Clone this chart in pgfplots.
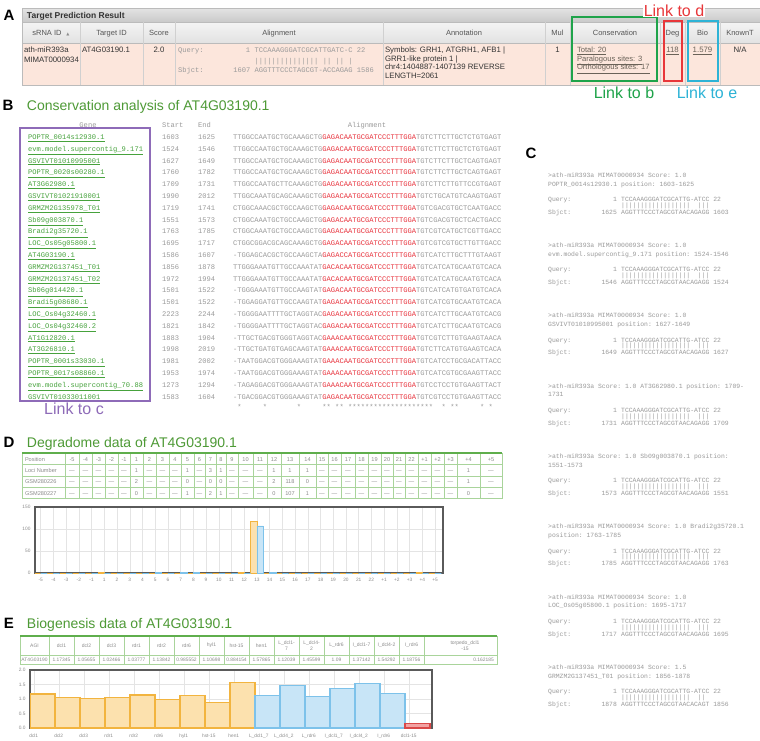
\documentclass[border=0pt]{standalone}
\usepackage{pgfplots}
\pgfplotsset{compat=1.18}
\usepackage{fontspec}
\setmainfont{Liberation Sans}
\setmonofont{Liberation Mono}
\newfontfamily\dejavu{DejaVu Sans}
\newcommand{\fs}[1]{\fontsize{#1}{#1}\selectfont}
\definecolor{titlegreen}{HTML}{4E9A36}
\definecolor{genegreen}{HTML}{46A23C}
\definecolor{seqgray}{HTML}{9A9A9A}
\definecolor{seqred}{HTML}{E8323C}
\definecolor{linkpurple}{HTML}{8E6BB8}
\definecolor{boxgreen}{HTML}{1FA34A}
\definecolor{boxred}{HTML}{E8373A}
\definecolor{boxcyan}{HTML}{2DB3D6}
\definecolor{pinkrow}{HTML}{FCE6DC}
\definecolor{tabgreen}{HTML}{A9D49B}
\definecolor{tabgreendark}{HTML}{5FAE4C}
\definecolor{orfill}{HTML}{FCE1AE}
\definecolor{ordraw}{HTML}{F2B43F}
\definecolor{blfill}{HTML}{C8E5F7}
\definecolor{bldraw}{HTML}{7DC2EA}
\definecolor{rdfill}{HTML}{F2A2A2}
\definecolor{rddraw}{HTML}{D94848}
\definecolor{txtgray}{HTML}{8C8C8C}
\definecolor{darktxt}{HTML}{333333}
\definecolor{hdtxt}{HTML}{555555}
\definecolor{hdrtop}{HTML}{E4E4E4}
\definecolor{hdrbot}{HTML}{C9C9C9}
\definecolor{colhdtop}{HTML}{F4F4F4}
\definecolor{colhdbot}{HTML}{E2E2E2}
\definecolor{linegray}{HTML}{BBBBBB}
\definecolor{sepgray}{HTML}{D0D0D0}
\definecolor{contxt}{HTML}{6A6258}
\definecolor{gridgray}{HTML}{E4E4E4}
\definecolor{framegray}{HTML}{5A5A5A}
\tikzset{lt/.style={anchor=base west,inner sep=0pt,outer sep=0pt},
  ctr/.style={anchor=base,inner sep=0pt,outer sep=0pt},
  ct/.style={anchor=base west,inner sep=0pt,font=\ttfamily\fs{6.4},text=seqgray}}
\newcommand{\crec}[8]{%
  \node[ct] at (548,{#1+2.3}) {#2};
  \node[ct] at (548,{#1+11}) {#3};
  \node[ct] at (548,{#1+26.6}) {Query:};
  \node[ct,anchor=base east] at ({548+18*3.84},{#1+26.6}) {1};
  \node[ct] at ({548+19*3.84},{#1+26.6}) {#8 22};
  \node[ct] at ({548+19*3.84},{#1+32.3}) {#7};
  \node[ct] at (548,{#1+39.3}) {Sbjct:};
  \node[ct,anchor=base east] at ({548+18*3.84},{#1+39.3}) {#4};
  \node[ct] at ({548+19*3.84},{#1+39.3}) {#5 #6};
}
\begin{document}
\begin{tikzpicture}
\useasboundingbox (0pt,0pt) rectangle (760pt,-740pt);
\fill[white] (0pt,0pt) rectangle (760pt,-740pt);
\begin{scope}
\clip (0pt,0pt) rectangle (760pt,-740pt);
\begin{scope}[x=1pt,y=-1pt]
% ---------------- Panel letters
\foreach \lx/\ly/\lt in {9/15/A, 8/105/B, 531/153/C, 9/442/D, 9/623/E}
  \node[inner sep=0pt,font=\fs{15}\bfseries] at (\lx,\ly) {\lt};
% ---------------- Panel A
\shade[top color=hdrtop,bottom color=hdrbot] (22,8) rectangle (762,22);
\node[lt,font=\fs{8.5}\bfseries,text=darktxt] at (27,18.2) {Target Prediction Result};
\shade[top color=colhdtop,bottom color=colhdbot] (22,22) rectangle (762,43);
\fill[pinkrow] (22,43) rectangle (762,85);
\draw[linegray] (22,22) -- (762,22) (22,43) -- (762,43) (22,85) -- (762,85) (22,8) -- (22,85) (22,8) -- (762,8);
\foreach \x in {80,143,175,383,545,570,660,685,720} \draw[sepgray] (\x,22) -- (\x,85);
\foreach \x/\t in {47/sRNA ID,111.5/Target ID,159/Score,279/Alignment,464/Annotation,557.5/Mul,615/Conservation,672.5/Deg,702.5/Bio,740/KnownT}
  \node[ctr,font=\fs{7.5},text=hdtxt] at (\x,35.5) {\t};
\node[ctr,font=\dejavu\fs{4},text=txtgray] at (68,35) {▲};
\node[lt,font=\fs{7.8},text=darktxt] at (24,52.8) {ath-miR393a};
\node[lt,font=\fs{7.8},text=darktxt] at (24,62.8) {MIMAT0000934};
\node[lt,font=\fs{7.8},text=darktxt] at (82,52.8) {AT4G03190.1};
\node[ctr,font=\fs{7.8},text=darktxt] at (159,52.8) {2.0};
\begin{scope}
\clip (176,43) rectangle (382,85);
\node[lt,font=\ttfamily\fs{7.1},text=seqgray] at (178,52.8) {Query:};
\node[anchor=base east,inner sep=0pt,font=\ttfamily\fs{7.1},text=seqgray] at (250.3,52.8) {1};
\node[lt,font=\ttfamily\fs{7.1},text=seqgray] at (254.6,52.8) {TCCAAAGGGATCGCATTGATC-C 22};
\node[lt,font=\ttfamily\fs{7.1},text=seqgray] at (254.6,63.2) {|||||||||||||||\ ||\ ||\ |};
\node[lt,font=\ttfamily\fs{7.1},text=seqgray] at (178,72.8) {Sbjct:};
\node[lt,font=\ttfamily\fs{7.1},text=seqgray] at (233.3,72.8) {1607 AGGTTTCCCTAGCGT-ACCAGAG 1586};
\end{scope}
\node[lt,font=\fs{7.8},text=darktxt] at (385,52.8) {Symbols: GRH1, ATGRH1, AFB1 |};
\node[lt,font=\fs{7.8},text=darktxt] at (385,61.3) {GRR1-like protein 1 |};
\node[lt,font=\fs{7.8},text=darktxt] at (385,69.8) {chr4:1404887-1407139 REVERSE};
\node[lt,font=\fs{7.8},text=darktxt] at (385,78.3) {LENGTH=2061};
\node[ctr,font=\fs{7.8},text=darktxt] at (557.5,52.8) {1};
\node[lt,font=\fs{7.6},text=contxt] at (577,52.8) {\underline{Total: 20}};
\node[lt,font=\fs{7.6},text=contxt] at (577,61.3) {\underline{Paralogous sites: 3}};
\node[lt,font=\fs{7.6},text=contxt] at (577,69.8) {\underline{Orthologous sites: 17}};
\node[ctr,font=\fs{7.8},text=contxt] at (672.5,52.8) {\underline{118}};
\node[ctr,font=\fs{7.8},text=contxt] at (702.5,52.8) {\underline{1.579}};
\node[ctr,font=\fs{7.8},text=darktxt] at (740,52.8) {N/A};
\draw[boxgreen,line width=2.2pt] (572,17) rectangle (657,81);
\draw[boxred,line width=2.2pt] (664,21) rectangle (682,81);
\draw[boxcyan,line width=2.2pt] (688,21) rectangle (718,81);
\node[fill=white,inner sep=1pt,font=\fs{16},text=boxred] at (674,10.5) {Link to d};
\node[inner sep=0pt,font=\fs{16},text=boxgreen] at (624,93) {Link to b};
\node[inner sep=0pt,font=\fs{16},text=boxcyan] at (707,93) {Link to e};
% ---------------- Panel B
\node[lt,font=\fs{14},text=titlegreen] at (27,110) {Conservation analysis of AT4G03190.1};
\node[ctr,font=\ttfamily\fs{7.1},text=seqgray] at (88,127.5) {Gene};
\node[lt,font=\ttfamily\fs{7.1},text=seqgray] at (162,127.5) {Start};
\node[lt,font=\ttfamily\fs{7.1},text=seqgray] at (198,127.5) {End};
\node[ctr,font=\ttfamily\fs{7.1},text=seqgray] at (367,127.5) {Alignment};
\foreach \g/\st/\en/\p/\m/\s [count=\i from 0] in {
POPTR\_0014s12930.1/1603/1625/TTGGCCAATGCTGCAAAGCTG/GAGACAATGCGATCCCTTTGGA/TGTCTTCTTGCTCTGTGAGT,
evm.model.supercontig\_9.171/1524/1546/TTGGCCAATGCTGCAAAGCTG/GAGACAATGCGATCCCTTTGGA/TGTCTTCTTGCTCTGTGAGT,
GSVIVT01010995001/1627/1649/TTGGCCAATGCTGCAAAGCTG/GAGACAATGCGATCCCTTTGGA/TGTCTTCTTGCTCAGTGAGT,
POPTR\_0020s00280.1/1760/1782/TTGGCCAATGCTGCAAAGCTG/GAGACAATGCGATCCCTTTGGA/TGTCTTCTTGCTCAGTGAGT,
AT3G62980.1/1709/1731/TTGGCCAATGCTTCAAAGCTG/GAGACAATGCGATCCCTTTGGA/TGTCTTCTTGTTCCGTGAGT,
GSVIVT01021910001/1990/2012/TTGGCAAATGCAGCAAAGCTG/GAGACAATGCGATCCCTTTGGA/TGTCTGCATGTCAAGTGAGT,
GRMZM2G135978\_T01/1719/1741/CTGGCAAACGCTGCCAAGCTG/GAGACAATGCGATCCCTTTGGA/TGTCGACGTGCTCAATGACC,
Sb09g003870.1/1551/1573/CTGGCAAATGCTGCCAAGCTG/GAGACAATGCGATCCCTTTGGA/TGTCGACGTGCTCACTGACC,
Bradi2g35720.1/1763/1785/CTGGCAAATGCTGCCAAGCTG/GAGACAATGCGATCCCTTTGGA/TGTCGTCATGCTCGTTGACC,
LOC\_Os05g05800.1/1695/1717/CTGGCGGACGCAGCAAAGCTG/GAGACAATGCGATCCCTTTGGA/TGTCGTCGTGCTTGTTGACC,
AT4G03190.1/1586/1607/-TGGAGCACGCTGCCAAGCTA/GAGACCATGCGATCCCTTTGGA/TGTCATCTTGCTTTGTAAGT,
GRMZM2G137451\_T01/1856/1878/TTGGGAAATGTTGCCAAATAT/GACACAATGCGATCCCTTTGGA/TGTCATCATGCAATGTCACA,
GRMZM2G137451\_T02/1972/1994/TTGGGAAATGTTGCCAAATAT/GACACAATGCGATCCCTTTGGA/TGTCATCATGCAATGTCACA,
Sb06g014420.1/1501/1522/-TGGGAAATGTTGCCAAGTAT/GAGACAATGCGATCCCTTTGGA/TGTCATCATGTGATGTCACA,
Bradi5g08680.1/1501/1522/-TGGAGGATGTTGCCAAGTAT/GAGACAATGCGATCCCTTTGGA/TGTCATCGTGCAATGTCACA,
LOC\_Os04g32460.1/2223/2244/-TGGGGAATTTTGCTAGGTAC/GAGACAATGCGATCCCTTTGGA/TGTCATCTTGCAATGTCACG,
LOC\_Os04g32460.2/1821/1842/-TGGGGAATTTTGCTAGGTAC/GAGACAATGCGATCCCTTTGGA/TGTCATCTTGCAATGTCACG,
AT1G12820.1/1883/1904/-TTGCTGACGTGGGTAGGTAC/GAAACAATGCGATCCCTTTGGA/TGTCGTCTTGTGAAGTAACA,
AT3G26810.1/1998/2019/-TTGCTGATGTGAGCAAGTAT/GAAACAATGCGATCCCTTTGGA/TGTCTTCATGTGAAGTCACA,
POPTR\_0001s33030.1/1981/2002/-TAATGGACGTGGGAAAGTAT/GAAACAATGCGATCCCTTTGGA/TGTCATCCTGCGACATTACC,
POPTR\_0017s08860.1/1953/1974/-TAATGGACGTGGGAAAGTAT/GAAACAATGCGATCCCTTTGGA/TGTCATCGTGCGAAGTTACC,
evm.model.supercontig\_70.88/1273/1294/-TAGAGGACGTGGGAAAGTAT/GAAACAATGCGATCCCTTTGGA/TGTCCTCCTGTGAAGTTACT,
GSVIVT01033011001/1583/1604/-TGACGGACGTGGGAAAGTAT/GAGACAATGCGATCCCTTTGGA/TGTCGTCCTGTGAAGTTACC}
{
  \node[lt,font=\ttfamily\fs{7.1},text=genegreen] at (28,{139.5+11.8*\i}) {\underline{\g}};
  \node[lt,font=\ttfamily\fs{7.1},text=seqgray] at (162,{139.5+11.8*\i}) {\st};
  \node[lt,font=\ttfamily\fs{7.1},text=seqgray] at (198,{139.5+11.8*\i}) {\en};
  \node[lt,font=\ttfamily\fs{7.1}] at (233,{139.5+11.8*\i}) {\textcolor{seqgray}{\p}\textcolor{seqred}{\m}\textcolor{seqgray}{\s}};
}
\foreach \k in {1,7,15,21,22,24,25,27,28,29,30,31,32,33,34,35,36,37,38,39,40,41,42,43,44,45,46,49,51,52,58,60}
  \node[lt,font=\ttfamily\fs{7.1},text=seqgray] at ({233+4.26*\k},409) {*};
\draw[linkpurple,line width=2.5pt] (20,128) rectangle (150,401);
\node[inner sep=0pt,font=\fs{16},text=linkpurple] at (74,409) {Link to c};
% ---------------- Panel C
\crec{175}{>ath-miR393a MIMAT0000934 Score: 1.0}{POPTR\_0014s12930.1 position: 1603-1625}{1625}{AGGTTTCCCTAGCGTAACAGAGG}{1603}{||||||||||||||||||\ \ |||}{TCCAAAGGGATCGCATTG-ATCC}
\crec{245.3}{>ath-miR393a MIMAT0000934 Score: 1.0}{evm.model.supercontig\_9.171 position: 1524-1546}{1546}{AGGTTTCCCTAGCGTAACAGAGG}{1524}{||||||||||||||||||\ \ |||}{TCCAAAGGGATCGCATTG-ATCC}
\crec{315.6}{>ath-miR393a MIMAT0000934 Score: 1.0}{GSVIVT01010995001 position: 1627-1649}{1649}{AGGTTTCCCTAGCGTAACAGAGG}{1627}{||||||||||||||||||\ \ |||}{TCCAAAGGGATCGCATTG-ATCC}
\crec{385.9}{>ath-miR393a Score: 1.0 AT3G62980.1 position: 1709-}{1731}{1731}{AGGTTTCCCTAGCGTAACAGAGG}{1709}{||||||||||||||||||\ \ |||}{TCCAAAGGGATCGCATTG-ATCC}
\crec{456.2}{>ath-miR393a Score: 1.0 Sb09g003870.1 position:}{1551-1573}{1573}{AGGTTTCCCTAGCGTAACAGAGG}{1551}{||||||||||||||||||\ \ |||}{TCCAAAGGGATCGCATTG-ATCC}
\crec{526.5}{>ath-miR393a MIMAT0000934 Score: 1.0 Bradi2g35720.1}{position: 1763-1785}{1785}{AGGTTTCCCTAGCGTAACAGAGG}{1763}{||||||||||||||||||\ \ |||}{TCCAAAGGGATCGCATTG-ATCC}
\crec{596.8}{>ath-miR393a MIMAT0000934 Score: 1.0}{LOC\_Os05g05800.1 position: 1695-1717}{1717}{AGGTTTCCCTAGCGTAACAGAGG}{1695}{||||||||||||||||||\ \ |||}{TCCAAAGGGATCGCATTG-ATCC}
\crec{667.1}{>ath-miR393a MIMAT0000934 Score: 1.5}{GRMZM2G137451\_T01 position: 1856-1878}{1878}{AGGTTTCCCTAGCGTAACACAGT}{1856}{||||||||||||||||||\ \ ||}{TCCAAAGGGATCGCATTG-ATCC}
% ---------------- Panel D
\node[lt,font=\fs{14},text=titlegreen] at (27,447) {Degradome data of AT4G03190.1};
\draw[tabgreen,line width=0.7pt] (22,453) rectangle (502,498.5);
\draw[tabgreen,line width=0.6pt] (22,464.5) -- (502,464.5) (22,476) -- (502,476) (22,487.2) -- (502,487.2);
\foreach \yy/\t in {461/Position,472.5/Loci Number,483.8/GSM280226,495/GSM280227}
  \node[lt,font=\fs{5.6},text=txtgray] at (25,\yy) {\t};
\foreach \l/\r/\p/\a/\b/\c in {65/79/-5/—/—/—,79/92/-4/—/—/—,92/105/-3/—/—/—,105/118/-2/—/—/—,118/130/-1/—/—/—,
 130/143/1/1/2/0,143/156/2/—/—/—,156/169/3/—/—/—,169/181/4/—/—/—,181/194/5/1/0/1,194/205/6/—/—/—,
 205/216/7/3/0/2,216/226/8/1/0/1,226/238/9/—/—/—,238/253/10/—/—/—,253/267/11/—/—/—,267/281/12/1/2/0,
 281/299/13/1/118/107,299/316/14/1/0/1,316/328/15/—/—/—,328/341/16/—/—/—,341/355/17/—/—/—,355/368/18/—/—/—,
 368/381/19/—/—/—,381/393/20/—/—/—,393/405/21/—/—/—,405/418/22/—/—/—,418/431/+1/—/—/—,431/444/+2/—/—/—,
 444/457/+3/—/—/—,457/480/+4/1/1/0,480/502/+5/—/—/—}
{
  \draw[tabgreen,line width=0.6pt] (\l,453) -- (\l,498.5);
  \node[ctr,font=\fs{5.6},text=txtgray] at ({(\l+\r)/2},461) {\p};
  \node[ctr,font=\fs{5.6},text=txtgray] at ({(\l+\r)/2},472.5) {\a};
  \node[ctr,font=\fs{5.6},text=txtgray] at ({(\l+\r)/2},483.8) {\b};
  \node[ctr,font=\fs{5.6},text=txtgray] at ({(\l+\r)/2},495) {\c};
}
\draw[tabgreendark,line width=1.8pt] (22,453) -- (502,453);
% ---------------- Panel E
\node[lt,font=\fs{14},text=titlegreen] at (27,628) {Biogenesis data of AT4G03190.1};
\draw[tabgreen,line width=0.7pt] (20,636) rectangle (497,664);
\draw[tabgreen,line width=0.6pt] (20,655) -- (497,655);
\draw[tabgreen,line width=0.6pt] (49,636) -- (49,664);
\node[anchor=center,inner sep=0pt,font=\fs{5},text=txtgray] at (34.5,645.5) {AGI};
\node[ctr,font=\fs{4.9},text=txtgray] at (34.5,661.5) {AT4G03190};
\foreach \i/\h/\v in {1/dcl1/1.17345,2/dcl2/1.05655,3/dcl3/1.02466,4/rdr1/1.03777,5/rdr2/1.13842,6/rdr6/0.985552,
 7/hyl1/1.10698,8/hst-15/0.884154,9/hen1/1.57865,10/L\_dcl1-\\7/1.12039,11/L\_dcl4-\\2/1.45599,12/L\_rdr6/1.09,
 13/I\_dcl1-7/1.37142,14/I\_dcl4-2/1.54292,15/I\_rdr6/1.18756}
{
  \draw[tabgreen,line width=0.6pt] ({49+25*\i},636) -- ({49+25*\i},664);
  \node[anchor=center,align=center,inner sep=0pt,font=\fontsize{5}{6}\selectfont,text=txtgray] at ({49+25*\i-12.5},645.5) {\h};
  \node[ctr,font=\fs{4.9},text=txtgray] at ({49+25*\i-12.5},661.5) {\v};
}
\node[anchor=center,align=center,inner sep=0pt,font=\fontsize{5}{6}\selectfont,text=txtgray] at (465,645.5) {torpedo\_dcl1\\-15};
\node[anchor=base east,inner sep=0pt,font=\fs{4.9},text=txtgray] at (494,661.5) {0.162185};
\draw[tabgreendark,line width=1.8pt] (20,636) -- (497,636);
\end{scope}
\end{scope}
% ---------------- Degradome chart (D)
\begin{axis}[at={(35pt,-507pt)},anchor=north west,width=408pt,height=66pt,scale only axis,
 xmin=-0.45,xmax=31.63,ymin=0,ymax=150,
 xtick={0,...,31},
 xticklabels={-5,-4,-3,-2,-1,1,2,3,4,5,6,7,8,9,10,11,12,13,14,15,16,17,18,19,20,21,22,+1,+2,+3,+4,+5},
 ytick={0,50,100,150},
 /pgf/number format/assume math mode=true,
 tick label style={font=\fs{4.8},text=txtgray},
 major tick length=0pt,
 xmajorgrids,ymajorgrids,grid style={gridgray,line width=0.5pt},
 axis line style={framegray,line width=1.3pt},
 xticklabel style={yshift=-2pt},yticklabel style={xshift=-1pt}]
\addplot[ybar,bar width=6.3pt,bar shift=-3.15pt,fill=orfill,draw=ordraw,line width=0.8pt] coordinates {
(0,0)(1,0)(2,0)(3,0)(4,0)(5,2)(6,0)(7,0)(8,0)(9,0)(10,0)(11,0)(12,0)(13,0)(14,0)(15,0)
(16,2)(17,118)(18,0)(19,0)(20,0)(21,0)(22,0)(23,0)(24,0)(25,0)(26,0)(27,0)(28,0)(29,0)(30,1)(31,0)};
\addplot[ybar,bar width=6.3pt,bar shift=3.15pt,fill=blfill,draw=bldraw,line width=0.8pt] coordinates {
(0,0)(1,0)(2,0)(3,0)(4,0)(5,0)(6,0)(7,0)(8,0)(9,1)(10,0)(11,2)(12,1)(13,0)(14,0)(15,0)
(16,0)(17,107)(18,1)(19,0)(20,0)(21,0)(22,0)(23,0)(24,0)(25,0)(26,0)(27,0)(28,0)(29,0)(30,0)(31,0)};
\end{axis}
% ---------------- Biogenesis chart (E)
\begin{axis}[at={(30pt,-670pt)},anchor=north west,width=402pt,height=58pt,scale only axis,
 xmin=0,xmax=16.08,ymin=0,ymax=2,
 xtick={0.15,1.15,2.15,3.15,4.15,5.15,6.15,7.15,8.15,9.15,10.15,11.15,12.15,13.15,14.15,15.15},
 xticklabels={dcl1,dcl2,dcl3,rdr1,rdr2,rdr6,hyl1,hst-15,hen1,L\_dcl1\_7,L\_dcl4\_2,L\_rdr6,I\_dcl1\_7,I\_dcl4\_2,I\_rdr6,dcl1-15},
 ytick={0,0.5,1,1.5,2},
 /pgf/number format/assume math mode=true,
 yticklabel style={/pgf/number format/fixed,/pgf/number format/fixed zerofill,/pgf/number format/precision=1,xshift=-1pt},
 tick label style={font=\fs{4.8},text=txtgray},
 major tick length=0pt,
 xmajorgrids,ymajorgrids,grid style={gridgray,line width=0.5pt},
 axis line style={framegray,line width=1.3pt},
 xticklabel style={yshift=-2pt}]
\addplot[ybar,bar width=1,bar shift=0pt,fill=orfill,draw=ordraw,line width=1.1pt] coordinates {
(0.5,1.17345)(1.5,1.05655)(2.5,1.02466)(3.5,1.03777)(4.5,1.13842)(5.5,0.985552)(6.5,1.10698)(7.5,0.884154)(8.5,1.57865)};
\addplot[ybar,bar width=1,bar shift=0pt,fill=blfill,draw=bldraw,line width=1.1pt] coordinates {
(9.5,1.12039)(10.5,1.45599)(11.5,1.09)(12.5,1.37142)(13.5,1.54292)(14.5,1.18756)};
\addplot[ybar,bar width=1,bar shift=0pt,fill=rdfill,draw=rddraw,line width=1.1pt] coordinates {
(15.5,0.162185)};
\end{axis}
\end{tikzpicture}
\end{document}
